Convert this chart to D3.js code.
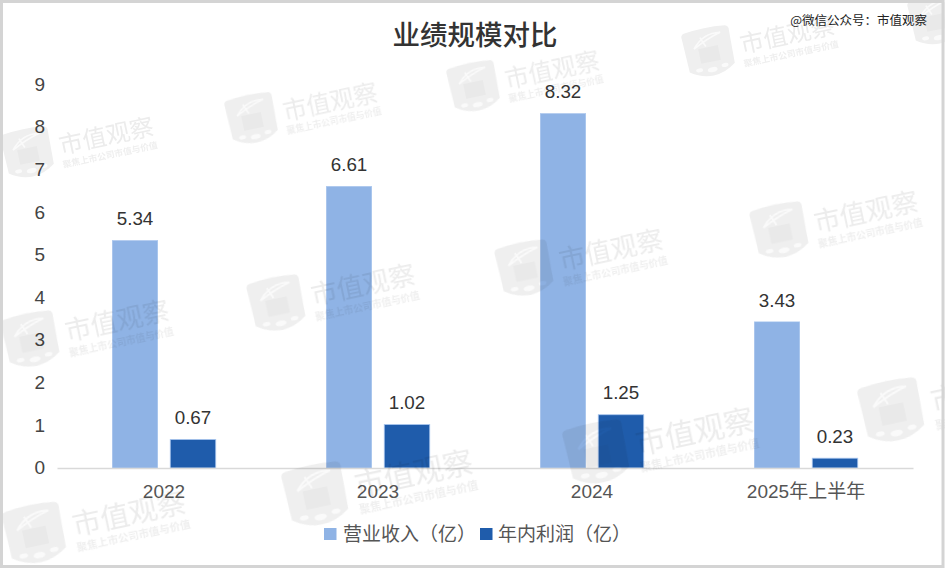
<!DOCTYPE html>
<html><head><meta charset="utf-8">
<script src="https://cdn.jsdelivr.net/npm/d3@7"></script>
<style>
html,body{margin:0;padding:0;background:#fff}
svg{display:block}
text{font-family:"Liberation Sans","Noto Sans CJK SC",sans-serif}
.cjk{font-family:"Noto Sans CJK SC",sans-serif}
</style></head><body>
<svg id="c" width="945" height="568"></svg>
<script>
const title = "业绩规模对比";
const credit = "@微信公众号：市值观察";
const categories = ["2022","2023","2024","2025年上半年"];
const seriesNames = ["营业收入（亿）","年内利润（亿）"];
const revenue = [5.34,6.61,8.32,3.43];
const profit = [0.67,1.02,1.25,0.23];
const yTicks = [0,1,2,3,4,5,6,7,8,9];
const colors = ["#8fb3e5","#1f5cab"];
const wmMain = "市值观察";
const wmSub = "聚焦上市公司市值与价值";
const wmCx = [28,252,474,709,935,31,277,525,780,316,597,892,35];
const wmCy = [153,119,87,52,20,340,304,269,231,495,453,411,534];
const wmSize = [1,1,1,1,1,1.1,1.1,1.1,1.1,1.25,1.25,1.25,1.2];

const svg = d3.select("#c");
svg.append("rect").attr("width",945).attr("height",568).attr("fill","#fff");

const x0 = d3.scaleBand().domain(categories).range([57,913]);
const x1 = d3.scaleBand().domain(seriesNames).range([-51.75,51.75]).paddingInner(0.2155);
const y = d3.scaleLinear().domain([0,9]).range([468,84.5]);

// axes
const gy = svg.append("g").attr("transform","translate(52,0)")
  .call(d3.axisLeft(y).tickValues(yTicks).tickSize(0).tickPadding(0));
gy.select(".domain").remove();
gy.selectAll("text").attr("font-size",19).attr("fill","#444").attr("x",-7).attr("dy","0.3em")
  .style("font-family",'"Liberation Sans",sans-serif');

const groups = [revenue,profit];
groups.forEach((vals,si)=>{
  svg.append("g").selectAll("rect").data(vals).join("rect")
    .attr("x",(d,i)=>x0(categories[i])+x0.bandwidth()/2+x1(seriesNames[si]))
    .attr("y",d=>y(d))
    .attr("width",x1.bandwidth())
    .attr("height",d=>y(0)-y(d))
    .attr("fill",colors[si])
    .attr("stroke","#a9c6ee").attr("stroke-width",si?0.8:0.5);
  svg.append("g").selectAll("text").data(vals).join("text")
    .attr("x",(d,i)=>x0(categories[i])+x0.bandwidth()/2+x1(seriesNames[si])+x1.bandwidth()/2)
    .attr("y",d=>y(d)-15.3)
    .attr("text-anchor","middle").attr("font-size",18.8).attr("fill","#333")
    .text(d=>d.toFixed(2));
});

const gx = svg.append("g").attr("transform","translate(0,468)")
  .call(d3.axisBottom(x0).tickSize(0).tickPadding(0));
gx.select(".domain").attr("stroke","#d9d9d9").attr("stroke-width",1.5);
gx.selectAll("text").attr("font-size",19).attr("fill","#555").attr("y",24).attr("dy","0.34em")
  .style("font-family",'"Liberation Sans","Noto Sans CJK SC",sans-serif');

// title + credit
svg.append("text").attr("class","cjk").attr("x",475).attr("y",45).attr("text-anchor","middle")
  .attr("font-size",27.5).attr("font-weight",500).attr("fill","#333").text(title);
svg.append("text").attr("class","cjk").attr("x",927).attr("y",25).attr("text-anchor","end")
  .attr("font-size",12.5).attr("fill","#222").text(credit);

// legend
const legX = [324,480], legT = [343,498];
const leg = svg.append("g").selectAll("g").data(seriesNames).join("g");
leg.append("rect").attr("x",(d,i)=>legX[i]).attr("y",528).attr("width",12.5).attr("height",12)
  .attr("fill",(d,i)=>colors[i]);
leg.append("text").attr("class","cjk").attr("x",(d,i)=>legT[i]).attr("y",541)
  .attr("font-size",19).attr("fill","#555").text(d=>d);

// watermarks
const defs = svg.append("defs");
defs.append("filter").attr("id","soft").append("feGaussianBlur").attr("stdDeviation",0.7);
const wm = svg.append("g").style("mix-blend-mode","multiply").attr("filter","url(#soft)");
wmCx.forEach((cx,i)=>{
  const g = wm.append("g").attr("transform",`translate(${cx},${wmCy[i]}) rotate(-12) scale(${wmSize[i]})`);
  g.append("path").attr("d","M-21,-23 Q0,-26 21,-23 Q25,-22 24,-17 L23,16 Q12,24 0,24 Q-12,24 -23,16 L-24,-17 Q-25,-22 -21,-23 Z")
    .attr("fill","#efefef");
  g.append("rect").attr("x",-10).attr("y",-5).attr("width",20).attr("height",15).attr("fill","#e9e9e9");
  g.append("path").attr("d","M-14,-6 Q-2,-20 15,-17 Q2,-14 -14,-6 M-6,-16 L-2,-6").attr("fill","none").attr("stroke","#fafafa").attr("stroke-width",1.6);
  g.append("ellipse").attr("cx",0).attr("cy",18).attr("rx",5).attr("ry",2.5).attr("fill","#fafafa");
  g.append("ellipse").attr("cx",-13).attr("cy",16).attr("rx",3.5).attr("ry",2).attr("fill","#fafafa");
  g.append("ellipse").attr("cx",13).attr("cy",16).attr("rx",3.5).attr("ry",2).attr("fill","#fafafa");
  if (cx + 40 * wmSize[i] > 945) return;
  g.append("text").attr("class","cjk").attr("x",80).attr("y",8).attr("text-anchor","middle")
    .attr("font-size",24).attr("fill","#ececec").text(wmMain);
  g.append("text").attr("class","cjk").attr("x",80).attr("y",22).attr("text-anchor","middle")
    .attr("font-size",8.8).attr("font-weight",700).attr("fill","#efefef").text(wmSub);
});

// border on top
svg.append("rect").attr("x",1.5).attr("y",1.5).attr("width",941.5).attr("height",565)
  .attr("fill","none").attr("stroke","#d4d4d4").attr("stroke-width",3);
</script>
</body></html>
